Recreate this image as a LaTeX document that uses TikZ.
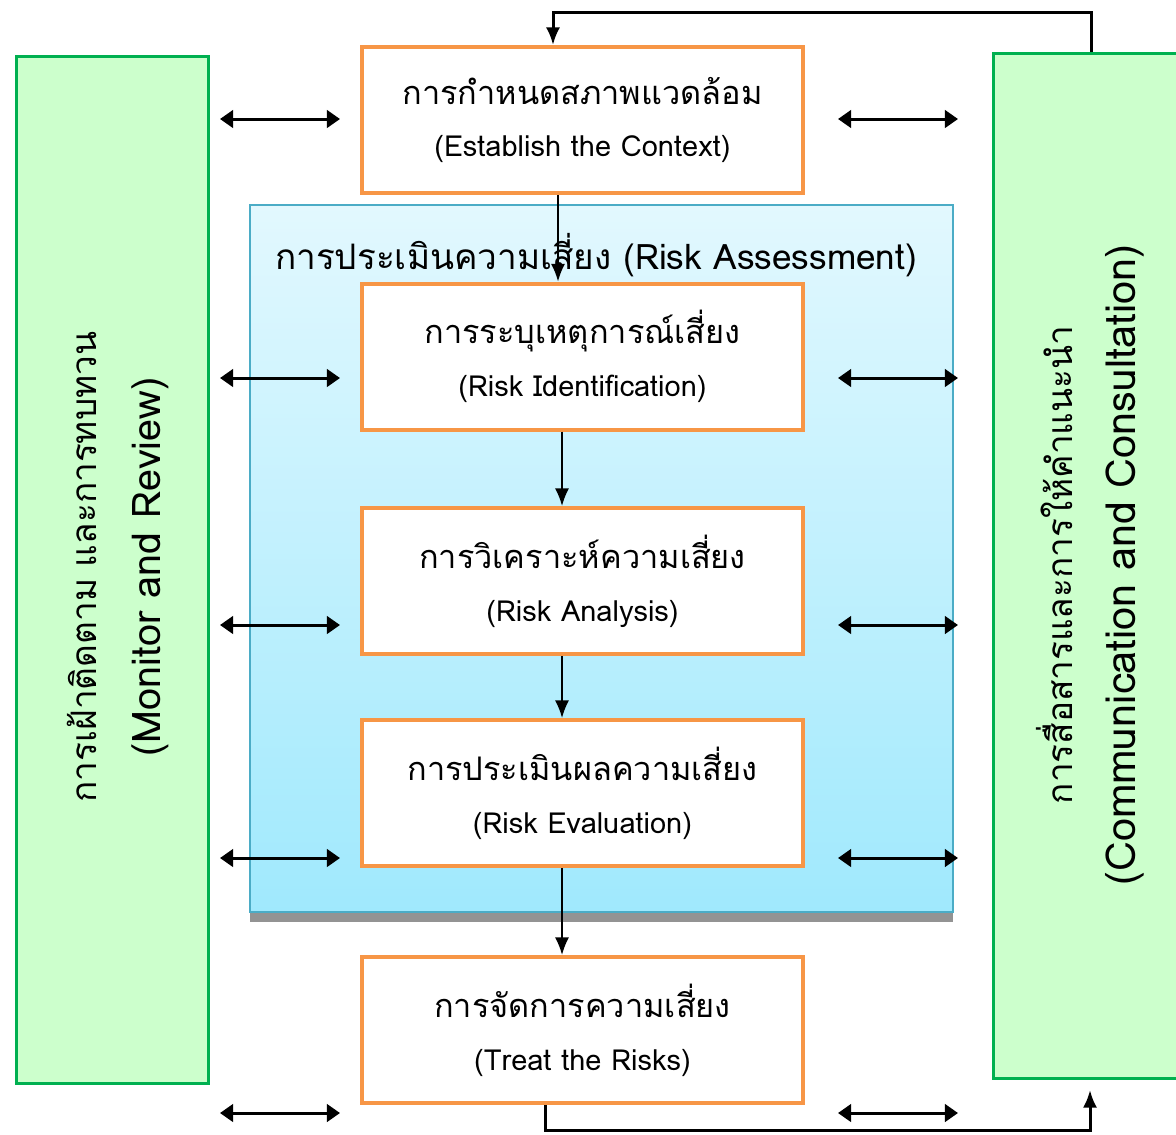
\documentclass[tikz,border=0pt]{standalone}
\usepackage{fontspec}
\setmainfont[Script=Thai]{Loma}
\usetikzlibrary{arrows.meta,positioning}
\definecolor{stepline}{HTML}{F79646}
\definecolor{sidefill}{HTML}{CCFFCC}
\definecolor{sideline}{HTML}{00B050}
\definecolor{assessline}{HTML}{4BACC6}
\definecolor{assesstop}{HTML}{E2F8FE}
\definecolor{assessbot}{HTML}{A0E9FD}
\tikzset{
  stepbox/.style={draw=stepline, line width=0.08cm, fill=white,
    minimum width=8.82cm, minimum height=2.92cm, align=center, inner sep=0pt,
    font=\fontsize{16.5pt}{30pt}\selectfont},
  sidebox/.style={draw=sideline, line width=0.06cm, fill=sidefill, inner sep=0pt},
  flow/.style={-{Latex[length=10pt,width=8pt]}, line width=1.1pt},
  both/.style={{Triangle[length=7.5pt,width=10pt]}-{Triangle[length=7.5pt,width=10pt]}, line width=1.7pt},
}
\newcommand{\thaitext}[1]{{\fontsize{18.5pt}{30pt}\selectfont #1}}
\newcommand{\sidethai}[1]{{\fontsize{20pt}{36pt}\selectfont #1}}
\begin{document}
\begin{tikzpicture}[x=0.02cm, y=-0.02cm]
  \useasboundingbox (0,0) rectangle (1176,1134);
  % Side boxes
  \node[sidebox, minimum width=3.84cm, minimum height=20.54cm] (monitor) at (112.5,570) {};
  \node[sidebox, minimum width=3.9cm, minimum height=20.5cm] (comm) at (1091,566) {};
  \node[rotate=90, align=center, font=\fontsize{22.5pt}{36pt}\selectfont] (monlabel) at (118,567)
    {\sidethai{การเฝ้าติดตาม และการทบทวน}\\(Monitor and Review)};
  \node[rotate=90, align=center, font=\fontsize{23.5pt}{36pt}\selectfont] (commlabel) at (1090,565)
    {\sidethai{การสื่อสารและการให้คำแนะนำ}\\(Communication and Consultation)};
  % Risk assessment area
  \fill[gray!85] (250,212) rectangle (953,922);
  \shade[top color=assesstop, bottom color=assessbot, draw=assessline, line width=0.04cm]
    (250,205) rectangle (953,912);
  \node[font=\fontsize{20pt}{26pt}\selectfont] (assesstitle) at (596,255)
    {การประเมินความเสี่ยง (Risk Assessment)};
  % Steps
  \node[stepbox] (ctx) at (582.5,120) {\thaitext{การกำหนดสภาพแวดล้อม}\\(Establish the Context)};
  \node[stepbox] (ident) at (582.5,356.5) {\thaitext{การระบุเหตุการณ์เสี่ยง}\\(Risk Identification)};
  \node[stepbox] (anal) at (582.5,581) {\thaitext{การวิเคราะห์ความเสี่ยง}\\(Risk Analysis)};
  \node[stepbox] (eval) at (582.5,793) {\thaitext{การประเมินผลความเสี่ยง}\\(Risk Evaluation)};
  \node[stepbox] (treat) at (582.5,1030) {\thaitext{การจัดการความเสี่ยง}\\(Treat the Risks)};
  % Flow between steps
  \draw[flow] ([xshift=-0.49cm]ctx.south) -- ([xshift=-0.49cm]ident.north);
  \draw[flow] ([xshift=-0.41cm]ident.south) -- ([xshift=-0.41cm]anal.north);
  \draw[flow] ([xshift=-0.41cm]anal.south) -- ([xshift=-0.41cm]eval.north);
  \draw[flow] ([xshift=-0.41cm]eval.south) -- ([xshift=-0.41cm]treat.north);
  % Loops back through communication
  \coordinate (toploop) at (553,12);
  \coordinate (botloop) at (545,1130);
  \coordinate (botend) at (1090,1090);
  \draw[flow, line width=1.7pt] (comm.north) |- (toploop) -- (ctx.north -| toploop);
  \draw[flow, line width=1.7pt] (treat.south -| botloop) -- (botloop) -| (botend);
  % Two-way links to the side boxes
  \foreach \y in {119,378,625,858,1113} {
    \draw[both] (220,\y) -- (340,\y);
    \draw[both] (838,\y) -- (958,\y);
  }
\end{tikzpicture}
\end{document}
